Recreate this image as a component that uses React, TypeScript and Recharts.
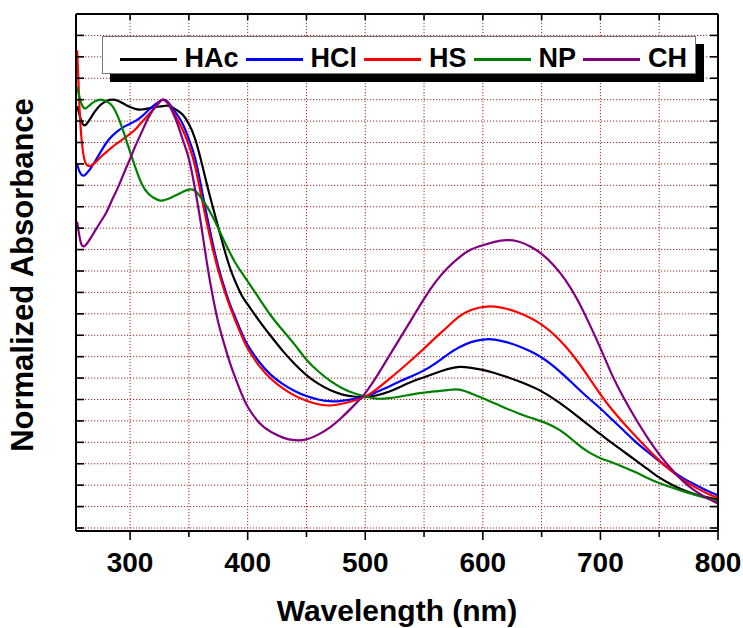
import React from 'react';
import { LineChart, Line, XAxis, YAxis, CartesianGrid, Legend, Label } from 'recharts';

const FONT = '"Liberation Sans", Arial, Helvetica, sans-serif';

const wavelengths = [
  255, 257, 259, 261, 263, 266, 270, 275, 280, 285,
  290, 295, 300, 305, 310, 315, 320, 325, 328, 332,
  336, 340, 345, 350, 355, 360, 365, 370, 375, 380,
  385, 390, 395, 400, 410, 420, 430, 440, 450, 460,
  470, 480, 490, 500, 510, 520, 530, 540, 550, 560,
  570, 580, 590, 600, 610, 620, 630, 640, 650, 660,
  670, 680, 690, 700, 710, 720, 730, 740, 750, 760,
  770, 780, 790, 800,
];

const hac = [
  0.985, 0.965, 0.947, 0.94, 0.943, 0.955, 0.972, 0.988, 0.997, 1.0,
  0.997, 0.99, 0.983, 0.978, 0.977, 0.979, 0.982, 0.984, 0.985, 0.986,
  0.982, 0.975, 0.964, 0.943, 0.911, 0.862, 0.806, 0.753, 0.702, 0.652,
  0.607, 0.572, 0.543, 0.522, 0.483, 0.447, 0.413, 0.383, 0.357, 0.337,
  0.322, 0.312, 0.307, 0.306, 0.31, 0.318, 0.33, 0.342, 0.352, 0.362,
  0.371, 0.376, 0.374, 0.369, 0.362, 0.353, 0.343, 0.332, 0.319, 0.302,
  0.283, 0.262, 0.24, 0.219, 0.198, 0.178, 0.158, 0.138, 0.118, 0.102,
  0.089, 0.079, 0.072, 0.066,
];

const hcl = [
  0.85, 0.832, 0.824, 0.823, 0.828, 0.838, 0.855, 0.878, 0.9, 0.916,
  0.928, 0.937, 0.944, 0.951, 0.961, 0.974, 0.986, 0.996, 1.0, 0.995,
  0.98, 0.965, 0.942, 0.908, 0.866, 0.803, 0.733, 0.668, 0.61, 0.563,
  0.522, 0.488, 0.455, 0.427, 0.387, 0.357, 0.336, 0.32, 0.308, 0.3,
  0.296, 0.297, 0.301, 0.307, 0.318, 0.33, 0.343, 0.355, 0.368, 0.385,
  0.405, 0.422, 0.434, 0.44, 0.44, 0.434, 0.425, 0.413, 0.398, 0.378,
  0.354, 0.328, 0.303, 0.279, 0.253, 0.227, 0.201, 0.178, 0.156, 0.135,
  0.117, 0.102, 0.088, 0.076,
];

const hs = [
  1.115, 0.98, 0.9, 0.862, 0.848, 0.845, 0.852, 0.866, 0.878, 0.89,
  0.9, 0.91, 0.92, 0.932, 0.948, 0.963, 0.978, 0.994, 1.0, 0.993,
  0.975, 0.955, 0.928, 0.893, 0.848, 0.782, 0.716, 0.655, 0.601, 0.556,
  0.516, 0.481, 0.448, 0.419, 0.378, 0.348, 0.326, 0.309, 0.297, 0.289,
  0.286, 0.29, 0.297, 0.307, 0.325, 0.347, 0.37, 0.394, 0.419, 0.445,
  0.47, 0.494, 0.509, 0.516, 0.517, 0.512, 0.503, 0.491, 0.475, 0.453,
  0.425, 0.391, 0.352, 0.312, 0.276, 0.244, 0.214, 0.185, 0.158, 0.134,
  0.113, 0.096, 0.082, 0.07,
];

const np = [
  1.03, 1.005, 0.988, 0.98, 0.981, 0.988, 0.996, 1.0, 0.996, 0.985,
  0.958, 0.92, 0.878, 0.838, 0.803, 0.782, 0.771, 0.765, 0.765, 0.768,
  0.773, 0.778, 0.785, 0.79, 0.788, 0.772, 0.752, 0.728, 0.7, 0.67,
  0.642, 0.617, 0.596, 0.576, 0.535, 0.495, 0.461, 0.428, 0.393, 0.366,
  0.344, 0.327, 0.315, 0.307, 0.302, 0.303, 0.307, 0.312, 0.316, 0.319,
  0.322, 0.323, 0.314, 0.303, 0.291, 0.279, 0.268, 0.258, 0.249, 0.237,
  0.22, 0.197, 0.177, 0.163, 0.153, 0.142, 0.13, 0.117, 0.105, 0.095,
  0.086, 0.078, 0.07, 0.062,
];

const ch = [
  0.715, 0.68, 0.66, 0.658, 0.663, 0.675, 0.693, 0.715, 0.738, 0.768,
  0.797, 0.83, 0.862, 0.895, 0.925, 0.955, 0.978, 0.995, 1.0, 0.992,
  0.972, 0.946, 0.905, 0.862, 0.795, 0.715, 0.625, 0.545, 0.48, 0.43,
  0.385, 0.347, 0.312, 0.283, 0.245, 0.224, 0.211, 0.205, 0.207, 0.218,
  0.235, 0.258, 0.285, 0.315, 0.355, 0.4, 0.445, 0.49, 0.535, 0.575,
  0.607, 0.632, 0.65, 0.66, 0.668, 0.672, 0.669, 0.658, 0.64, 0.614,
  0.58, 0.535, 0.48, 0.42, 0.357, 0.303, 0.255, 0.211, 0.172, 0.139,
  0.11, 0.088, 0.071, 0.057,
];

const seriesNames = ['HAc', 'HCl', 'HS', 'NP', 'CH'];
const seriesColors = ['#000000', '#0000ff', '#ff0000', '#008000', '#800080'];
const seriesValues = [hac, hcl, hs, np, ch];

const xTicks = [300, 350, 400, 450, 500, 550, 600, 650, 700, 750, 800];
const yTicks = [
  0, 0.05, 0.1, 0.15, 0.2, 0.25, 0.3, 0.35, 0.4, 0.45, 0.5, 0.55,
  0.6, 0.65, 0.7, 0.75, 0.8, 0.85, 0.9, 0.95, 1.0, 1.05, 1.1, 1.15,
];

const xDomain = [254, 800];
const yDomain = [-0.007, 1.2];

const data = wavelengths.map((w, i) => {
  const row: any = { w };
  seriesNames.forEach((n, k) => {
    row[n] = seriesValues[k][i];
  });
  return row;
});

const BottomTick = (props: any) => {
  const { x, y, payload } = props;
  const major = payload.value % 100 === 0;
  return (
    <g>
      <line x1={x} x2={x} y1={y} y2={y + (major ? 9 : 6)} stroke="#000" strokeWidth={1.6} />
      {major && (
        <text x={x} y={y + 41} textAnchor="middle" fontFamily={FONT} fontWeight="bold" fontSize={28} fill="#000">
          {payload.value}
        </text>
      )}
    </g>
  );
};

const TopTick = (props: any) => {
  const { x, y } = props;
  return <line x1={x} x2={x} y1={y} y2={y + 6} stroke="#000" strokeWidth={1.6} />;
};

const LeftTick = (props: any) => {
  const { x, y } = props;
  return <line x1={x} x2={x + 8} y1={y} y2={y} stroke="#000" strokeWidth={1.6} />;
};

const RightTick = (props: any) => {
  const { x, y } = props;
  return <line x1={x} x2={x - 8} y1={y} y2={y} stroke="#000" strokeWidth={1.6} />;
};

const YTitle = () => (
  <text
    x={33}
    y={275}
    transform="rotate(-90 33 275)"
    textAnchor="middle"
    fontFamily={FONT}
    fontWeight="bold"
    fontSize={31}
    fill="#000"
  >
    Normalized Absorbance
  </text>
);

const XTitle = () => (
  <text x={397} y={621} textAnchor="middle" fontFamily={FONT} fontWeight="bold" fontSize={30} fill="#000">
    Wavelength (nm)
  </text>
);

const LegendContent = (props: any) => {
  const payload: any[] = props.payload || [];
  const ordered = seriesNames
    .map((n) => payload.find((p) => p.value === n))
    .filter(Boolean);
  return (
    <div
      style={{
        boxSizing: 'border-box',
        width: 594,
        height: 38,
        background: '#fff',
        border: '1.5px solid #777',
        boxShadow: '8px 8px 0 #000',
        display: 'flex',
        alignItems: 'flex-start',
        paddingLeft: 16.5,
      }}
    >
      {ordered.map((e: any, i: number) => (
        <div key={i} style={{ display: 'flex', alignItems: 'flex-start', marginRight: 7 }}>
          <span style={{ display: 'block', width: 57, height: 3, marginTop: 21, background: e.color }} />
          <span
            style={{
              display: 'block',
              marginLeft: 8,
              marginTop: 8,
              fontFamily: FONT,
              fontWeight: 'bold',
              fontSize: 27,
              lineHeight: '27px',
              color: '#000',
              whiteSpace: 'nowrap',
            }}
          >
            {e.value}
          </span>
        </div>
      ))}
    </div>
  );
};

export default function App() {
  return (
    <div style={{ position: 'absolute', left: 0, top: 0, width: 743, height: 628, background: '#fff' }}>
      <LineChart width={743} height={628} data={data} margin={{ top: 13, right: 24, bottom: 96, left: 75 }}>
        <CartesianGrid stroke="#9e2a2a" strokeDasharray="1.2 1.8" strokeWidth={1} />
        <XAxis
          dataKey="w"
          type="number"
          domain={xDomain}
          allowDataOverflow
          ticks={xTicks}
          interval={0}
          height={1}
          tickSize={0}
          tickMargin={0}
          tickLine={false}
          tick={<BottomTick />}
          axisLine={{ stroke: '#000', strokeWidth: 2 }}
          label={<Label content={XTitle} />}
        />
        <XAxis
          xAxisId="top"
          orientation="top"
          dataKey="w"
          type="number"
          domain={xDomain}
          allowDataOverflow
          ticks={xTicks}
          interval={0}
          height={1}
          tickSize={0}
          tickMargin={0}
          tickLine={false}
          tick={<TopTick />}
          axisLine={{ stroke: '#000', strokeWidth: 2 }}
        />
        <YAxis
          type="number"
          domain={yDomain}
          allowDataOverflow
          ticks={yTicks}
          interval={0}
          width={1}
          tickSize={0}
          tickMargin={0}
          tickLine={false}
          tick={<LeftTick />}
          axisLine={{ stroke: '#000', strokeWidth: 2 }}
          label={<Label content={YTitle} />}
        />
        <YAxis
          yAxisId="right"
          orientation="right"
          type="number"
          domain={yDomain}
          allowDataOverflow
          ticks={yTicks}
          interval={0}
          width={1}
          tickSize={0}
          tickMargin={0}
          tickLine={false}
          tick={<RightTick />}
          axisLine={{ stroke: '#000', strokeWidth: 2 }}
        />
        {seriesNames.map((n, k) => (
          <Line
            key={n}
            type="natural"
            dataKey={n}
            name={n}
            stroke={seriesColors[k]}
            strokeWidth={2.2}
            dot={false}
            activeDot={false}
            isAnimationActive={false}
          />
        ))}
        <Legend
          layout="horizontal"
          verticalAlign="middle"
          align="center"
          content={<LegendContent />}
          wrapperStyle={{ left: 102, top: 36, width: 596, height: 40, margin: 0 }}
        />
      </LineChart>
    </div>
  );
}
